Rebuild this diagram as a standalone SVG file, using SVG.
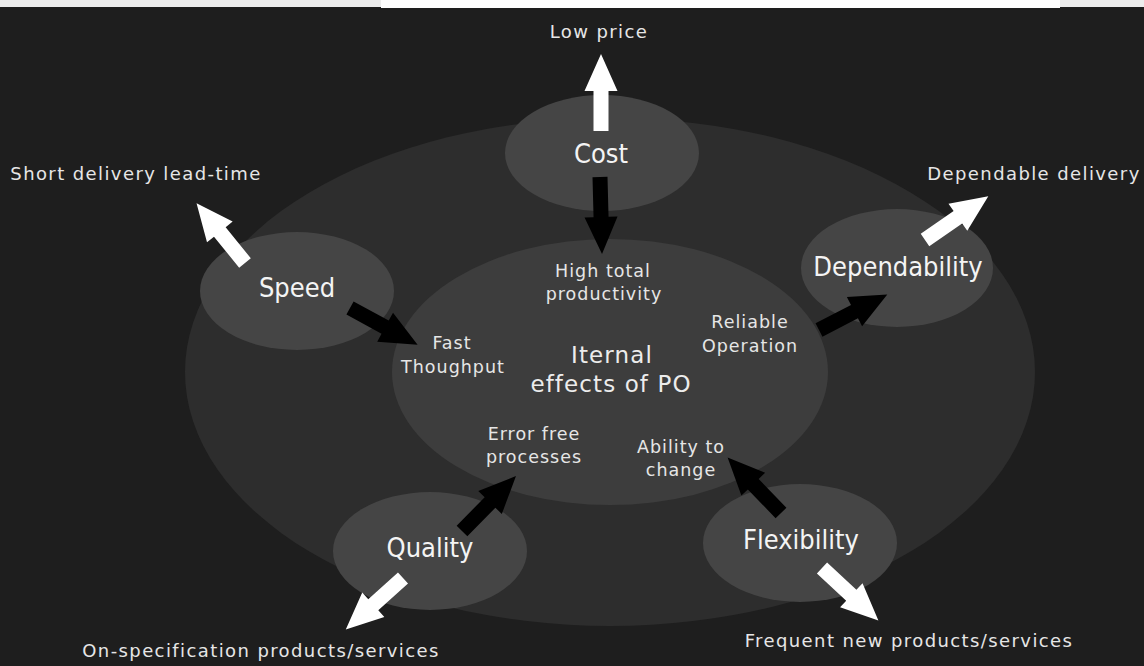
<svg xmlns="http://www.w3.org/2000/svg" xmlns:xlink="http://www.w3.org/1999/xlink" width="1144" height="666" viewBox="0 0 1144 666">
<style>
.bg{fill:#1e1e1e}
.outer{fill:#2d2d2d}
.inner{fill:#3d3d3d}
.small{fill:#454545}
.lbl{font-family:"DejaVu Sans Condensed","DejaVu Sans",sans-serif;font-stretch:condensed;font-size:27px;fill:#f4f4f4;text-anchor:middle}
.out{font-family:"DejaVu Sans","Verdana",sans-serif;font-size:18px;letter-spacing:1.4px;fill:#e6e6e6;text-anchor:middle}
.in{font-family:"DejaVu Sans","Verdana",sans-serif;font-size:17.5px;letter-spacing:1px;fill:#e6e6e6;text-anchor:middle}
.ctr{font-family:"DejaVu Sans","Verdana",sans-serif;font-size:23px;letter-spacing:1.1px;fill:#ececec;text-anchor:middle}
.w{fill:#ffffff}
.k{fill:#000000}
</style>
<defs>
<path id="arr" d="M0,-7.5 L40,-7.5 L40,-16.5 L77,0 L40,16.5 L40,7.5 L0,7.5 Z"/>
</defs>
<rect class="bg" x="0" y="0" width="1144" height="666"/>
<rect x="0" y="0" width="1144" height="7" fill="#ededed"/>
<rect x="381" y="0" width="679" height="8" fill="#ffffff"/>

<g id="outer-field">
<ellipse class="outer" cx="610" cy="372" rx="425" ry="254"/>
</g>
<g id="internal">
<ellipse class="inner" cx="610" cy="372" rx="218" ry="133"/>
<text class="ctr" x="612" y="363">Iternal</text>
<text class="ctr" x="611" y="392">effects of PO</text>
<text class="in" x="603" y="277">High total</text>
<text class="in" x="604" y="300">productivity</text>
<text class="in" x="452" y="349">Fast</text>
<text class="in" x="453" y="373">Thoughput</text>
<text class="in" x="750" y="328">Reliable</text>
<text class="in" x="750" y="352">Operation</text>
<text class="in" x="534" y="440">Error free</text>
<text class="in" x="534" y="463">processes</text>
<text class="in" x="681" y="453">Ability to</text>
<text class="in" x="681" y="476">change</text>
</g>
<g id="cost">
<ellipse class="small" cx="602" cy="153" rx="97" ry="58"/>
<text class="lbl" x="601" y="163">Cost</text>
</g>
<g id="speed">
<ellipse class="small" cx="297" cy="291" rx="97" ry="59"/>
<text class="lbl" x="297" y="297">Speed</text>
</g>
<g id="dependability">
<ellipse class="small" cx="897" cy="268" rx="96" ry="59"/>
<text class="lbl" x="898" y="276">Dependability</text>
</g>
<g id="quality">
<ellipse class="small" cx="430" cy="551" rx="97" ry="59"/>
<text class="lbl" x="430" y="557">Quality</text>
</g>
<g id="flexibility">
<ellipse class="small" cx="800" cy="543" rx="97" ry="59"/>
<text class="lbl" x="801" y="549">Flexibility</text>
</g>
<g id="outcomes">
<text class="out" x="599" y="38">Low price</text>
<text class="out" x="136" y="180">Short delivery lead-time</text>
<text class="out" x="1034" y="180">Dependable delivery</text>
<text class="out" x="261" y="657">On-specification products/services</text>
<text class="out" x="909" y="647">Frequent new products/services</text>
</g>
<g id="connectors">
<use xlink:href="#arr" class="w" transform="translate(601,131) rotate(-90)"/>
<use xlink:href="#arr" class="k" transform="translate(600,177) rotate(88.5)"/>
<use xlink:href="#arr" class="w" transform="translate(245,263) rotate(-129)"/>
<use xlink:href="#arr" class="k" transform="translate(350,308) rotate(28.6)"/>
<use xlink:href="#arr" class="w" transform="translate(925,240) rotate(-34.7)"/>
<use xlink:href="#arr" class="k" transform="translate(819,330) rotate(-27.5)"/>
<use xlink:href="#arr" class="k" transform="translate(462,531) rotate(-45.5)"/>
<use xlink:href="#arr" class="w" transform="translate(403,578) rotate(138)"/>
<use xlink:href="#arr" class="k" transform="translate(781,513) rotate(-133.9)"/>
<use xlink:href="#arr" class="w" transform="translate(822,568) rotate(42.9)"/>
</g>
</svg>
